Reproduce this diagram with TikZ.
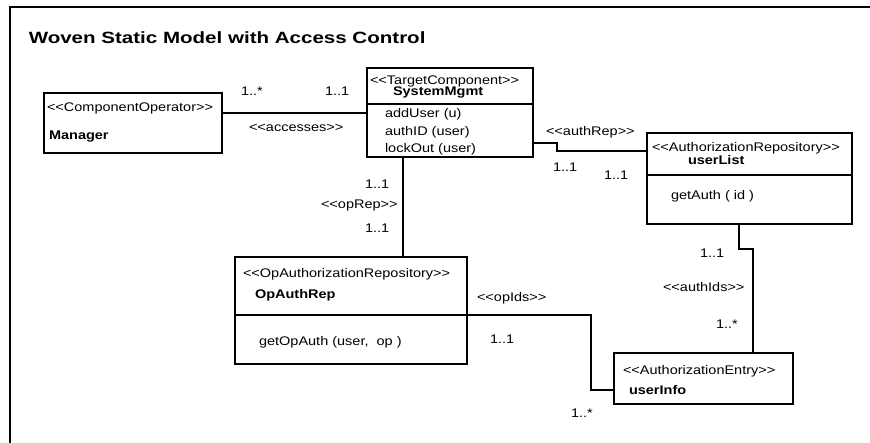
\documentclass[tikz,border=0pt]{standalone}
\usepackage{fontspec}
\newfontfamily\diagfont[FakeStretch=1.16]{Liberation Sans}
\newfontfamily\titlefont[FakeStretch=1.26]{Liberation Sans}
\begin{document}
\begin{tikzpicture}[x=1pt,y=-1pt,
  line width=1.5pt, line join=miter,
  classbox/.style={draw=black, line width=1.6pt, rectangle, inner sep=0pt, outer sep=0pt, anchor=north west},
  txt/.style={anchor=base west, inner sep=0pt, outer sep=0pt, font=\diagfont\fontsize{12.5}{14}\selectfont},
  clsname/.style={txt, font=\diagfont\bfseries\fontsize{12.5}{14}\selectfont},
  assoc/.style={draw=black, line width=1.5pt}]
\useasboundingbox (0,0) rectangle (870,442);

% frame
\draw[line width=1.6pt] (872,7) -- (10,7) -- (10,444);
\node[anchor=base west, inner sep=0pt, font=\titlefont\bfseries\fontsize{16.3}{19}\selectfont] (title) at (28,43) {Woven Static Model with Access Control};

% classes
\node[classbox, minimum width=178pt, minimum height=60pt] (mgr) at (44,93) {};
\node[classbox, minimum width=166pt, minimum height=89pt] (sys) at (367,68) {};
\node[classbox, minimum width=205pt, minimum height=91pt] (ulist) at (647,133) {};
\node[classbox, minimum width=232pt, minimum height=107pt] (opauth) at (235,257) {};
\node[classbox, minimum width=179pt, minimum height=51pt] (entry) at (614,353) {};

% compartment dividers
\draw (sys.west |- 0,104) -- (sys.east |- 0,104);
\draw (ulist.west |- 0,175) -- (ulist.east |- 0,175);
\draw (opauth.west |- 0,315) -- (opauth.east |- 0,315);

% class texts
\node[txt] (mgrst) at (47,111) {<<ComponentOperator>>};
\node[clsname] (mgrnm) at (49,139) {Manager};

\node[txt] (sysst) at (370,84) {<<TargetComponent>>};
\node[clsname] (sysnm) at (393,95) {SystemMgmt};
\node[txt] (sysop1) at (385,117) {addUser (u)};
\node[txt] (sysop2) at (385,135) {authID (user)};
\node[txt] (sysop3) at (385,152) {lockOut (user)};

\node[txt] (ulst) at (652,151) {<<AuthorizationRepository>>};
\node[clsname] (ulnm) at (688,164) {userList};
\node[txt] (ulop) at (671,199) {getAuth ( id )};

\node[txt] (oast) at (243,277) {<<OpAuthorizationRepository>>};
\node[clsname] (oanm) at (255,298) {OpAuthRep};
\node[txt] (oaop) at (259,345) {getOpAuth (user,\ \ op )};

\node[txt] (enst) at (623,374) {<<AuthorizationEntry>>};
\node[clsname] (ennm) at (629,394) {userInfo};

% associations
\draw[assoc] (mgr.east |- 0,113) -- (sys.west |- 0,113);
\draw[assoc] (sys.east |- 0,143) -- (557,143) -- (557,151) -- (ulist.west |- 0,151);
\draw[assoc] (sys.south -| 403,0) -- (opauth.north -| 403,0);
\draw[assoc] (opauth.east |- 0,315) -- (591,315) -- (591,390) -- (entry.west |- 0,390);
\draw[assoc] (ulist.south -| 739,0) -- (739,249) -- (753,249) -- (entry.north -| 753,0);

% association labels and multiplicities
\node[txt] (m1) at (241,95) {1..*};
\node[txt] (m2) at (325,95) {1..1};
\node[txt] (a1) at (249,131) {<<accesses>>};

\node[txt] (a2) at (546,135) {<<authRep>>};
\node[txt] (m3) at (553,171) {1..1};
\node[txt] (m4) at (604,179) {1..1};

\node[txt] (m5) at (365,188) {1..1};
\node[txt] (a3) at (321,208) {<<opRep>>};
\node[txt] (m6) at (365,232) {1..1};

\node[txt] (a4) at (477,301) {<<opIds>>};
\node[txt] (m7) at (490,343) {1..1};
\node[txt] (m8) at (571,417) {1..*};

\node[txt] (m9) at (700,257) {1..1};
\node[txt] (a5) at (663,291) {<<authIds>>};
\node[txt] (m10) at (716,328) {1..*};
\end{tikzpicture}
\end{document}
